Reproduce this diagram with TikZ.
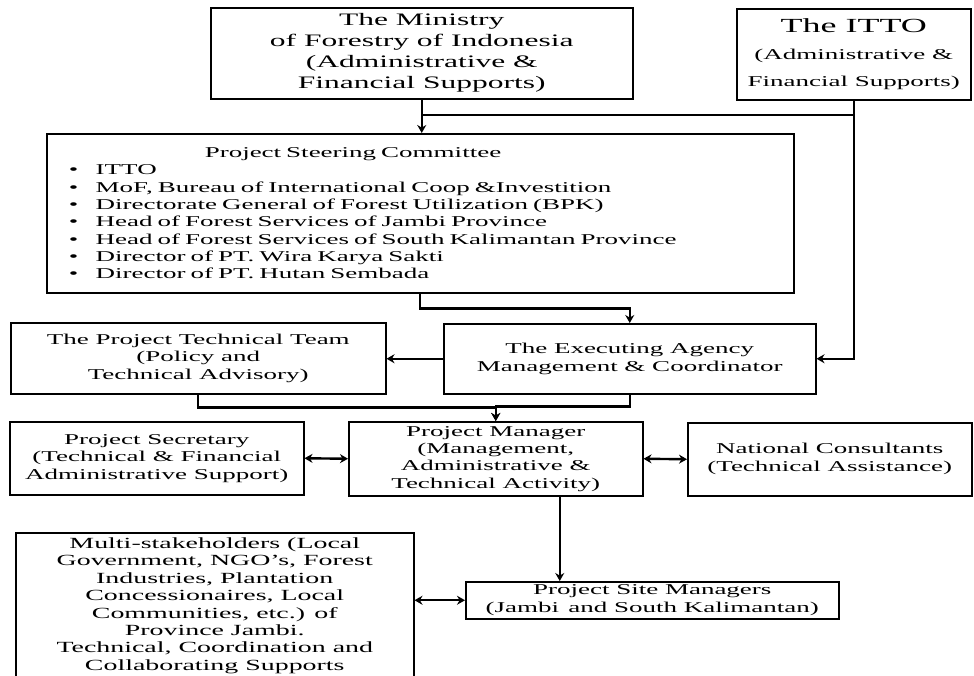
\documentclass[tikz,border=0pt]{standalone}
\usepackage{fontspec}
\setmainfont{Liberation Serif}[FakeStretch=1.8]
\usepackage{tikz}
\usetikzlibrary{arrows.meta}
\newcommand{\psitem}{\makebox[27pt][l]{\textbullet}}
\tikzset{
  box/.style={draw, line width=1.5pt, inner sep=0pt, align=center, anchor=north west},
  conn/.style={line width=2.4pt},
  >={Stealth[length=8pt,width=9pt]}
}
\begin{document}
\begin{tikzpicture}[x=1pt,y=-1pt]
\useasboundingbox (0,0) rectangle (974,675);
\clip (0,0) rectangle (974,675);
\node (min) [box, minimum width=422, minimum height=91, font=\fontsize{17.5}{21}\selectfont] at (210,7) {The Ministry\\ of Forestry of Indonesia\\ (Administrative \&\\ Financial Supports)};
\node (itto) [box, minimum width=234, minimum height=91, font=\fontsize{15}{27}\selectfont] at (736,8) {{\fontsize{20}{27}\selectfont The ITTO}\\ (Administrative \&\\ Financial Supports)};
\node (psc) [box, minimum width=747, minimum height=159, text width=703, inner xsep=22, align=left, font=\fontsize{15}{17.3}\selectfont] at (46,133) {
\hspace*{136pt}Project Steering Committee\\
\psitem ITTO\\
\psitem MoF, Bureau of International Coop \&Investition\\
\psitem Directorate General of Forest Utilization (BPK)\\
\psitem Head of Forest Services of Jambi Province\\
\psitem Head of Forest Services of South Kalimantan Province\\
\psitem Director of PT. Wira Karya Sakti\\
\psitem Director of PT. Hutan Sembada};
\node (tech) [box, minimum width=375, minimum height=71, font=\fontsize{15}{17.5}\selectfont] at (10,322) {The Project Technical Team\\ (Policy and\\ Technical Advisory)};
\node (exec) [box, minimum width=372, minimum height=70, font=\fontsize{15}{18}\selectfont] at (443,323) {The Executing Agency\\ Management \& Coordinator};
\node (sec) [box, minimum width=294, minimum height=73, font=\fontsize{15}{17.5}\selectfont] at (9,421) {Project Secretary\\ (Technical \& Financial\\ Administrative Support)};
\node (pm) [box, minimum width=294, minimum height=74, font=\fontsize{15}{17.3}\selectfont] at (348,421) {Project Manager\\ (Management,\\ Administrative \&\\ Technical Activity)};
\node (nc) [box, minimum width=284, minimum height=73, font=\fontsize{15}{18}\selectfont] at (687,422) {National Consultants\\ (Technical Assistance)};
\node (site) [box, minimum width=373, minimum height=37, font=\fontsize{15}{18}\selectfont] at (465,581) {Project Site Managers\\ (Jambi\, and South Kalimantan)};
\node (multi) [box, minimum width=398, minimum height=146, font=\fontsize{15.5}{17.4}\selectfont] at (15,532) {Multi-stakeholders (Local\\ Government, NGO’s, Forest\\ Industries, Plantation\\ Concessionaires, Local\\ Communities, etc.) of\\ Province Jambi.\\ Technical, Coordination and\\ Collaborating Supports};
\coordinate (j1) at (421,115);
\coordinate (pmout) at ([xshift=64]pm.south);
\draw [conn,->] (min.south) -- (min.south |- psc.north);
\draw [conn] (j1) -| (itto.south);
\draw [conn,->] (itto.south) |- (exec.east);
\draw [conn,->] (psc.south) -- ++(0,15) -| (exec.north);
\draw [conn,->] (exec.west) -- (exec.west -| tech.east);
\draw [conn,->] (tech.south) -- ++(0,13) -| (pm.north);
\draw [conn,->] (exec.south) -- ++(0,12) -| (pm.north);
\draw [conn,<->] (sec.east) -- (pm.west);
\draw [conn,<->] (pm.east) -- (nc.west);
\draw [conn,->] (pmout) -- (pmout |- site.north);
\draw [conn,<->] (site.west -| multi.east) -- (site.west);
\end{tikzpicture}
\end{document}
